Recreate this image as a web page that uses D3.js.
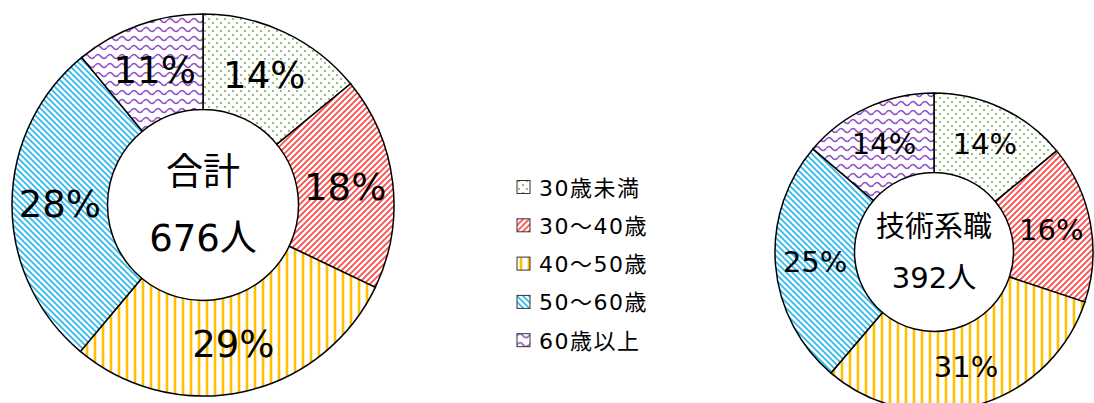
<!DOCTYPE html>
<html lang="ja">
<head>
<meta charset="UTF-8">
<title>年齢構成</title>
<script src="https://d3js.org/d3.v7.min.js"></script>
<style>
  body { margin: 0; background: #fff; }
  svg text { font-family: "DejaVu Sans", "Noto Sans CJK JP", sans-serif; fill: #000; }
</style>
</head>
<body>
<div id="chart"></div>
<script>
// age groups
const categories = ["30歳未満", "30～40歳", "40～50歳", "50～60歳", "60歳以上"];
// head counts per group
const totalValues = [95, 122, 196, 189, 74];      // 合計 676人
const techValues = [55, 63, 122, 98, 54];         // 技術系職 392人
const totalTitle = ["合計", "676人"];
const techTitle = ["技術系職", "392人"];

const W = 1094, H = 403;

const svg = d3.select("#chart").append("svg")
    .attr("width", W)
    .attr("height", H);

const defs = svg.append("defs");

// pattern fills, one per category
const patIds = ["pDots", "pRed", "pYellow", "pBlue", "pWave"];

let p = defs.append("pattern").attr("id", "pDots").attr("patternUnits", "userSpaceOnUse")
    .attr("width", 8).attr("height", 8);
p.append("rect").attr("width", 8).attr("height", 8).attr("fill", "#fff");
p.append("circle").attr("cx", 2).attr("cy", 2).attr("r", 1.1).attr("fill", "#7FAF5F");
p.append("circle").attr("cx", 6).attr("cy", 6).attr("r", 1.1).attr("fill", "#7FAF5F");

p = defs.append("pattern").attr("id", "pRed").attr("patternUnits", "userSpaceOnUse")
    .attr("width", 6).attr("height", 6);
p.append("rect").attr("width", 6).attr("height", 6).attr("fill", "#fff");
p.append("path").attr("d", "M0,6 L6,0 M-1,1 L1,-1 M5,7 L7,5")
    .attr("stroke", "#FF4848").attr("stroke-width", 1.7);

p = defs.append("pattern").attr("id", "pYellow").attr("patternUnits", "userSpaceOnUse")
    .attr("width", 8).attr("height", 8);
p.append("rect").attr("width", 8).attr("height", 8).attr("fill", "#fff");
p.append("line").attr("x1", 4).attr("x2", 4).attr("y1", 0).attr("y2", 8)
    .attr("stroke", "#FFC000").attr("stroke-width", 2.6);

p = defs.append("pattern").attr("id", "pBlue").attr("patternUnits", "userSpaceOnUse")
    .attr("width", 6).attr("height", 6);
p.append("rect").attr("width", 6).attr("height", 6).attr("fill", "#fff");
p.append("path").attr("d", "M0,0 L6,6 M-1,5 L1,7 M5,-1 L7,1")
    .attr("stroke", "#2DB8F0").attr("stroke-width", 1.7);

p = defs.append("pattern").attr("id", "pWave").attr("patternUnits", "userSpaceOnUse")
    .attr("width", 12).attr("height", 9);
p.append("rect").attr("width", 12).attr("height", 9).attr("fill", "#fff");
p.append("path").attr("d", "M0,4.5 Q3,0.5 6,4.5 T12,4.5")
    .attr("fill", "none").attr("stroke", "#9150C8").attr("stroke-width", 1.6);

const pie = d3.pie().sort(null).value(d => d);

function donut(values, title, cx, cy, rOuter, fontSize, titleGap) {
    const g = svg.append("g").attr("transform", `translate(${cx},${cy})`);
    const arc = d3.arc().innerRadius(rOuter * 0.5).outerRadius(rOuter);
    const total = d3.sum(values);
    const arcs = pie(values);

    g.selectAll("path.slice").data(arcs).join("path")
        .attr("class", "slice")
        .attr("d", arc)
        .attr("fill", (d, i) => `url(#${patIds[i]})`)
        .attr("stroke", "#000")
        .attr("stroke-width", 1.5);

    g.selectAll("text.pct").data(arcs).join("text")
        .attr("class", "pct")
        .attr("transform", d => `translate(${arc.centroid(d)})`)
        .attr("text-anchor", "middle")
        .attr("dominant-baseline", "central")
        .style("font-size", fontSize + "px")
        .text(d => Math.round(d.data / total * 100) + "%");

    g.selectAll("text.title").data(title).join("text")
        .attr("class", "title")
        .attr("x", 0)
        .attr("y", (d, i) => (i - 0.5) * titleGap)
        .attr("text-anchor", "middle")
        .attr("dominant-baseline", "central")
        .style("font-size", fontSize + "px")
        .text(d => d);
}

donut(totalValues, totalTitle, 203, 205, 191, 37, 66);
donut(techValues, techTitle, 934, 252, 159, 29, 51);

// legend
const legend = svg.append("g").attr("transform", "translate(517,187)");
const item = legend.selectAll("g").data(categories).join("g")
    .attr("transform", (d, i) => `translate(0,${i * 38.3})`);
item.append("rect")
    .attr("x", 0).attr("y", -6.5)
    .attr("width", 13).attr("height", 13)
    .attr("fill", (d, i) => `url(#${patIds[i]})`)
    .attr("stroke", "#333").attr("stroke-width", 1);
item.append("text")
    .attr("x", 22).attr("y", 1)
    .attr("dominant-baseline", "central")
    .style("font-size", "22px")
    .style("letter-spacing", "1.5px")
    .text(d => d);
</script>
</body>
</html>
